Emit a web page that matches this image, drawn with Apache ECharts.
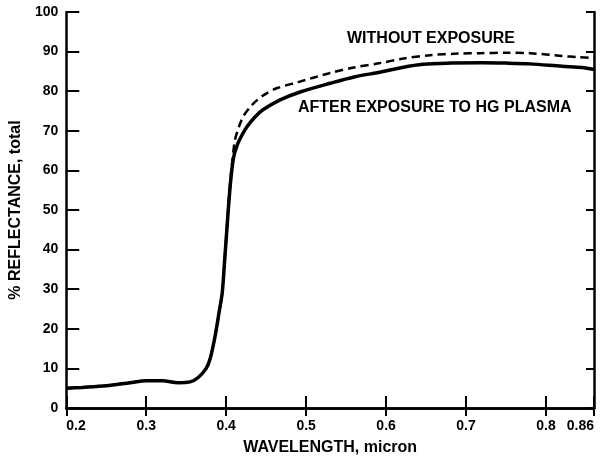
<!DOCTYPE html>
<html>
<head>
<meta charset="utf-8">
<script src="https://cdn.jsdelivr.net/npm/echarts@6/dist/echarts.min.js"></script>
<style>html,body{margin:0;padding:0;background:#fff}#c{width:600px;height:465px}</style>
</head>
<body>
<div id="c"></div>
<script>
// Wavelength (micron) and % reflectance, after exposure to Hg plasma (solid)
var afterWavelength = [0.20,0.22,0.25,0.28,0.30,0.32,0.34,0.355,0.365,0.375,0.38,0.386,0.391,0.395,0.398,0.401,0.405,0.409,0.414,0.42,0.426,0.436,0.446,0.4675,0.4925,0.53,0.56,0.5925,0.62,0.646,0.68,0.72,0.75,0.78,0.82,0.845,0.86];
var afterReflectance = [5.0,5.2,5.6,6.4,6.9,6.9,6.4,6.6,7.7,10.0,12.5,18,24,29,37,45.5,56,63,66.5,69,71,73.5,75.3,77.8,79.8,82,83.6,84.8,86,86.8,87.1,87.2,87.1,86.9,86.3,86.0,85.5];
// Without exposure (dashed)
var withoutWavelength = [0.20,0.22,0.25,0.28,0.30,0.32,0.34,0.355,0.365,0.375,0.38,0.386,0.391,0.395,0.398,0.401,0.405,0.408,0.411,0.416,0.421,0.43,0.439,0.45,0.464,0.49,0.53,0.56,0.5925,0.62,0.655,0.69,0.7175,0.75,0.78,0.82,0.84,0.86];
var withoutReflectance = [5.0,5.2,5.6,6.4,6.9,6.9,6.4,6.6,7.7,10.0,12.5,18,24,29,37,46,57,63,67.7,71,73.5,76,77.8,79.4,80.8,82.3,84.6,86,87.1,88.2,89.1,89.5,89.6,89.7,89.6,88.9,88.6,88.4];
var xTickLabels = ['0.2','0.3','0.4','0.5','0.6','0.7','0.8','0.86'];
var yTickLabels = ['0','10','20','30','40','50','60','70','80','90','100'];
var xName = 'WAVELENGTH, micron';
var yName = '% REFLECTANCE, total';
var labelWithout = 'WITHOUT EXPOSURE';
var labelAfter = 'AFTER EXPOSURE TO HG PLASMA';

function pairs(xs, ys){ return xs.map(function(x,i){ return [x, ys[i]]; }); }

var font = 'Liberation Sans';
var lineStyle = {color:'#000', width:2.5};
var chart = echarts.init(document.getElementById('c'), null, {renderer:'canvas'});
chart.setOption({
  animation:false,
  backgroundColor:'#fff',
  grid:{left:66, right:6, top:12, bottom:57},
  xAxis:[{
    type:'value', min:0.2, max:0.86, interval:0.1,
    name:xName, nameLocation:'middle', nameGap:32,
    nameTextStyle:{fontFamily:font, fontWeight:'bold', fontSize:16, color:'#000'},
    axisLine:{show:true, lineStyle:lineStyle},
    axisTick:{show:true, inside:true, length:12, lineStyle:{color:'#000', width:2}},
    axisLabel:{fontFamily:font, fontWeight:'bold', fontSize:14, color:'#000', margin:11,
      alignMinLabel:'left', alignMaxLabel:'right',
      formatter:function(v){
        var i = Math.round((v-0.2)/0.1);
        if (Math.abs(v-0.86)<1e-6) return xTickLabels[xTickLabels.length-1];
        return xTickLabels[i];
      }},
    splitLine:{show:false}
  },{
    type:'value', min:0.2, max:0.86, interval:0.1, position:'top',
    axisLine:{show:true, lineStyle:lineStyle},
    axisTick:{show:true, inside:true, length:8, lineStyle:{color:'#000', width:2}},
    axisLabel:{show:false}, splitLine:{show:false}
  }],
  yAxis:[{
    type:'value', min:0, max:100, interval:10,
    name:yName, nameLocation:'middle', nameGap:40,
    nameTextStyle:{fontFamily:font, fontWeight:'bold', fontSize:16, color:'#000'},
    axisLine:{show:true, lineStyle:lineStyle},
    axisTick:{show:true, inside:true, length:13, lineStyle:{color:'#000', width:2}},
    axisLabel:{fontFamily:font, fontWeight:'bold', fontSize:14, color:'#000', margin:8,
      formatter:function(v){ return yTickLabels[Math.round(v/10)]; }},
    splitLine:{show:false}
  },{
    type:'value', min:0, max:100, interval:10, position:'right',
    axisLine:{show:true, lineStyle:lineStyle},
    axisTick:{show:true, inside:true, length:8, lineStyle:{color:'#000', width:2}},
    axisLabel:{show:false}, splitLine:{show:false}
  }],
  series:[{
    type:'line', name:labelWithout, data:pairs(withoutWavelength, withoutReflectance),
    showSymbol:false, smooth:0.3, z:2,
    lineStyle:{color:'#000', width:2.5, type:[8,5]}
  },{
    type:'line', name:labelAfter, data:pairs(afterWavelength, afterReflectance),
    showSymbol:false, smooth:0.3, z:3,
    lineStyle:{color:'#000', width:3.5}
  }],
  graphic:[
    {type:'text', left:347, top:31, style:{text:labelWithout, fontFamily:font, fontWeight:'bold', fontSize:16, fill:'#000'}},
    {type:'text', left:298, top:100, style:{text:labelAfter, fontFamily:font, fontWeight:'bold', fontSize:16, fill:'#000'}}
  ]
});
</script>
</body>
</html>
